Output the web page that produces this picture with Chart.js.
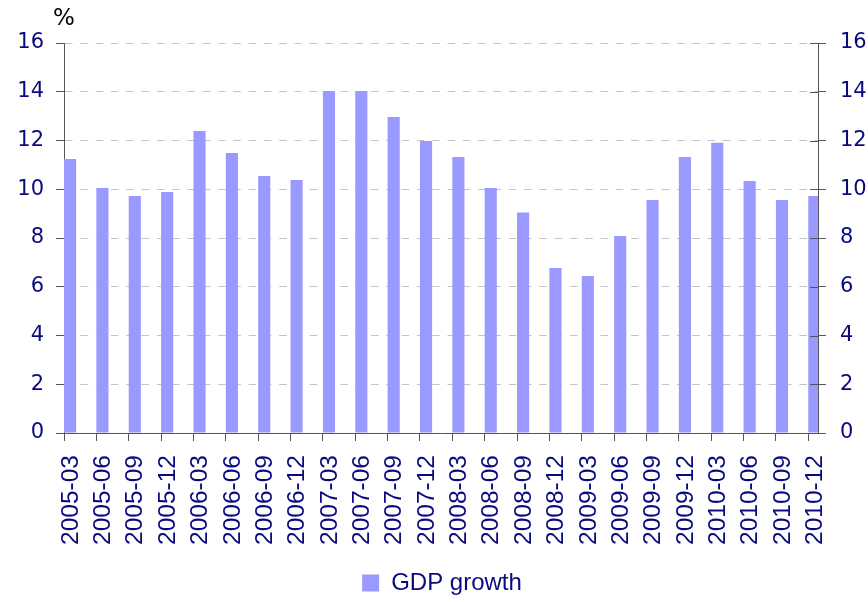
<!DOCTYPE html>
<html>
<head>
<meta charset="utf-8">
<script src="https://cdn.jsdelivr.net/npm/chart.js@4/dist/chart.umd.min.js"></script>
<style>
  html, body { margin: 0; padding: 0; background: #ffffff; }
  #wrap { width: 868px; height: 602px; }
</style>
</head>
<body>
<div id="wrap"><canvas id="c" width="868" height="602"></canvas></div>
<script>
// ---- data ----
const categories = ['2005-03','2005-06','2005-09','2005-12','2006-03','2006-06','2006-09','2006-12',
  '2007-03','2007-06','2007-09','2007-12','2008-03','2008-06','2008-09','2008-12',
  '2009-03','2009-06','2009-09','2009-12','2010-03','2010-06','2010-09','2010-12'];
const gdpGrowth = [11.24, 10.05, 9.72, 9.89, 12.39, 11.49, 10.54, 10.38,
  14.03, 14.03, 12.96, 11.98, 11.32, 10.05, 9.05, 6.77,
  6.44, 8.08, 9.56, 11.32, 11.91, 10.34, 9.56, 9.72];
const yTicks = [0, 2, 4, 6, 8, 10, 12, 14, 16];
const seriesName = 'GDP growth';
const unitLabel = '%';

const NAVY = '#0a0a80';
const AXIS = '#555555';

const barData = gdpGrowth.map((v, i) => ({ x: i, y: v }));

const extras = {
  id: 'extras',
  afterDraw(chart) {
    const ctx = chart.ctx;
    const a = chart.chartArea;
    ctx.save();
    // unit label
    ctx.fillStyle = '#000000';
    ctx.font = '23px "DejaVu Sans"';
    ctx.textAlign = 'left';
    ctx.textBaseline = 'alphabetic';
    ctx.fillText(unitLabel, a.left - 11, a.top - 18);
    // inner tick marks on right axis
    const y2 = chart.scales.y2;
    ctx.strokeStyle = AXIS;
    ctx.lineWidth = 1;
    y2.ticks.forEach(t => {
      const py = Math.round(y2.getPixelForValue(t.value)) + 0.5;
      ctx.beginPath();
      ctx.moveTo(a.right - 8, py);
      ctx.lineTo(a.right, py);
      ctx.stroke();
    });
    ctx.restore();
  }
};

new Chart(document.getElementById('c'), {
  type: 'bar',
  data: {
    datasets: [
      { label: '', data: [], backgroundColor: 'rgba(0,0,0,0)', categoryPercentage: 0.75, barPercentage: 1 },
      { label: seriesName, data: barData, backgroundColor: '#9999ff', borderWidth: 0,
        categoryPercentage: 0.75, barPercentage: 1 }
    ]
  },
  options: {
    responsive: false,
    animation: false,
    layout: { padding: { top: 43, left: 17, right: 1, bottom: -3 } },
    plugins: {
      tooltip: { enabled: false },
      legend: {
        position: 'bottom',
        labels: {
          filter: item => item.datasetIndex === 1,
          boxWidth: 17, boxHeight: 17,
          color: NAVY,
          font: { family: '"Liberation Sans", Arial, sans-serif', size: 24 }
        }
      }
    },
    scales: {
      x: {
        type: 'linear',
        offset: false,
        min: 0,
        max: 23.3,
        afterBuildTicks: axis => {
          axis.ticks = categories.map((c, i) => ({ value: i }));
        },
        afterFit: axis => { axis.height = 128; },
        ticks: {
          stepSize: 1,
          autoSkip: false,
          maxRotation: 90,
          minRotation: 90,
          labelOffset: 7,
          padding: 14,
          color: NAVY,
          font: { family: '"Liberation Sans", Arial, sans-serif', size: 24.5 },
          callback: (v) => categories[v] !== undefined ? categories[v] : ''
        },
        grid: { offset: false, drawOnChartArea: false, drawTicks: true, tickLength: 8, tickColor: AXIS },
        border: { display: true, color: AXIS, width: 1 }
      },
      y: {
        position: 'left',
        min: 0, max: 16,
        afterBuildTicks: axis => { axis.ticks = yTicks.map(v => ({ value: v })); },
        afterFit: axis => { axis.width = 47; },
        ticks: {
          padding: 12,
          color: NAVY,
          font: { family: '"DejaVu Sans", sans-serif', size: 21 }
        },
        grid: {
          color: ctx => (ctx.tick && ctx.tick.value === 0) ? 'rgba(0,0,0,0)' : '#c4c4c4',
          lineWidth: 1,
          tickLength: 8,
          tickColor: AXIS
        },
        border: { display: true, color: AXIS, width: 1, dash: [7.5, 7.8] }
      },
      y2: {
        position: 'right',
        min: 0, max: 16,
        afterBuildTicks: axis => { axis.ticks = yTicks.map(v => ({ value: v })); },
        afterFit: axis => { axis.width = 49; },
        ticks: {
          padding: 14,
          color: NAVY,
          font: { family: '"DejaVu Sans", sans-serif', size: 21 }
        },
        grid: { drawOnChartArea: false, tickLength: 8, tickColor: AXIS },
        border: { display: true, color: AXIS, width: 1 }
      }
    }
  },
  plugins: [extras]
});
</script>
</body>
</html>
